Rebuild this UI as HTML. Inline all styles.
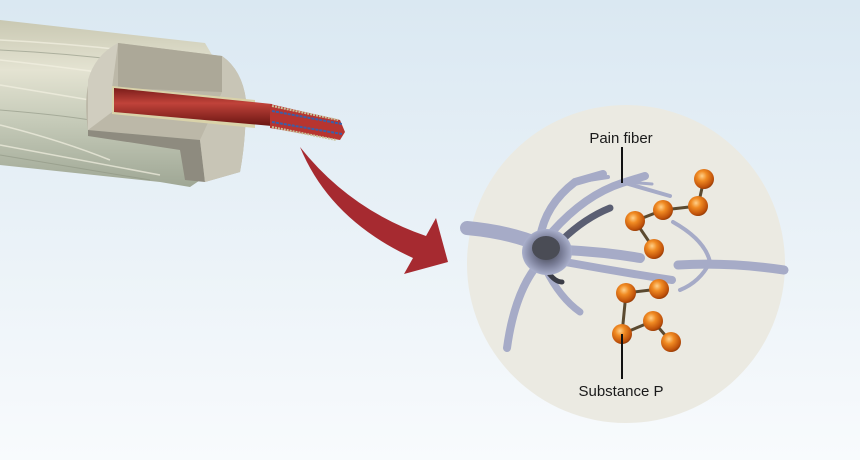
<!DOCTYPE html>
<html><head><meta charset="utf-8"><style>
html,body{margin:0;padding:0;width:860px;height:460px;overflow:hidden}
body{background:linear-gradient(#dae8f2,#f4f8fb 85%,#f8fbfd)}
svg{display:block}
text{font-family:"Liberation Sans",sans-serif;font-size:15px;fill:#1a1a1a}
</style></head><body>
<svg width="860" height="460" viewBox="0 0 860 460">
<defs>
<linearGradient id="cyl" x1="0" y1="0" x2="0" y2="1">
<stop offset="0" stop-color="#c9c8b2"/><stop offset=".3" stop-color="#e4e3d2"/><stop offset=".6" stop-color="#c6cbb9"/><stop offset="1" stop-color="#9fa795"/></linearGradient>
<linearGradient id="red" x1="0" y1="0" x2="0" y2="1">
<stop offset="0" stop-color="#7a1d1a"/><stop offset=".4" stop-color="#c0433a"/><stop offset="1" stop-color="#6a1512"/></linearGradient>
<radialGradient id="ball" cx=".4" cy=".35" r=".7">
<stop offset="0" stop-color="#ffd08a"/><stop offset=".35" stop-color="#f08a22"/><stop offset=".8" stop-color="#c0520a"/><stop offset="1" stop-color="#8a3605"/></radialGradient>
<radialGradient id="soma" cx=".5" cy=".5" r=".5">
<stop offset="0" stop-color="#3a3c46"/><stop offset=".6" stop-color="#7a7e98"/><stop offset="1" stop-color="#aab0cc"/></radialGradient>
</defs>
<!-- cable -->
<path d="M0 20 L205 43 L215 60 L215 170 L190 187 L160 182 L0 165 Z" fill="url(#cyl)"/>
<g stroke="#f3f1e2" stroke-width="1.5" fill="none" opacity=".7">
<path d="M0 40 Q100 45 200 60"/><path d="M0 60 Q90 70 150 80"/><path d="M0 85 Q60 95 90 100"/><path d="M0 125 Q60 140 110 160"/><path d="M0 145 Q80 160 160 175"/>
</g>
<g stroke="#8e9482" stroke-width="1" fill="none" opacity=".6">
<path d="M0 50 Q100 55 190 70"/><path d="M0 110 Q60 115 90 120"/><path d="M0 155 Q80 168 150 180"/>
</g>
<path d="M118 43 L222 56 Q242 70 246 100 Q246 140 240 172 L205 182 L200 140 L88 130 Q82 90 95 65 Z" fill="#bcb8a8"/>
<path d="M118 43 L222 56 L222 92 L118 88 Z" fill="#aca898"/>
<path d="M88 130 L200 140 L205 182 L185 180 L180 150 L88 136 Z" fill="#8e8b7f"/>
<path d="M222 56 Q242 70 246 100 Q246 140 240 172 L205 182 L200 140 L222 92 Z" fill="#c8c5b6"/>
<path d="M118 43 Q95 55 88 80 L88 130 L112 112 L112 88 Z" fill="#d0cdbf"/>
<path d="M112 86 L255 100 L255 128 L112 114 Z" fill="#d9d2a9"/>
<path d="M114 88 L272 104 L272 126 L114 112 Z" fill="url(#red)"/>
<path d="M270 104 L340 120 L345 132 L340 140 L270 128 Z" fill="#b73530"/>
<g stroke-width="2" fill="none">
<path d="M272 106 L338 120" stroke="#c9c39a" stroke-dasharray="2 1"/>
<path d="M272 111 L342 124" stroke="#3a5fa8" stroke-dasharray="3 1"/>
<path d="M272 122 L342 134" stroke="#3a5fa8" stroke-dasharray="3 1"/>
<path d="M272 127 L336 140" stroke="#c9c39a" stroke-dasharray="2 1"/>
</g>
<!-- arrow -->
<path d="M300 147 Q350 210 426 236 L436 218 L448 262 L404 274 L413 258 Q330 220 300 147 Z" fill="#a62a30"/>
<!-- circle -->
<circle cx="626" cy="264" r="159" fill="#ebeae2"/>
<!-- neuron -->
<g fill="none" stroke-linecap="round" stroke="#a6abc7">
<path d="M540 245 Q510 232 467 228" stroke-width="14"/>
<path d="M540 238 Q545 205 575 182 L603 174" stroke-width="8"/>
<path d="M575 182 L608 177" stroke-width="4"/>
<path d="M552 232 Q585 195 622 183 L645 176" stroke-width="8"/>
<path d="M625 183 L670 196" stroke-width="4"/>
<path d="M628 182 L652 184" stroke-width="3"/>
<path d="M562 240 Q585 218 610 208" stroke-width="7" stroke="#5a5e72"/>
<path d="M565 250 Q605 252 640 258" stroke-width="10"/>
<path d="M565 262 Q620 272 672 280" stroke-width="8"/>
<path d="M540 262 Q515 290 507 348" stroke-width="8"/>
<path d="M545 268 Q560 298 580 312" stroke-width="7"/>
<path d="M548 272 Q555 282 562 282" stroke-width="5" stroke="#3a3c46"/>
<path d="M678 265 Q730 262 784 270" stroke-width="9"/>
<path d="M673 222 Q705 240 710 262 Q700 282 680 290" stroke-width="4"/>
</g>
<ellipse cx="547" cy="252" rx="25" ry="23" fill="url(#soma)"/>
<ellipse cx="546" cy="248" rx="14" ry="12" fill="#4a4c55"/>
<!-- substance P -->
<g stroke="#5b4a30" stroke-width="3" fill="none">
<path d="M704 179 L698 206 L663 210 L635 221 L654 249"/>
<path d="M659 289 L626 293 L622 334 L653 321 L671 342"/>
</g>
<g fill="url(#ball)">
<circle cx="704" cy="179" r="10"/><circle cx="698" cy="206" r="10"/><circle cx="663" cy="210" r="10"/><circle cx="635" cy="221" r="10"/><circle cx="654" cy="249" r="10"/>
<circle cx="626" cy="293" r="10"/><circle cx="659" cy="289" r="10"/><circle cx="622" cy="334" r="10"/><circle cx="653" cy="321" r="10"/><circle cx="671" cy="342" r="10"/>
</g>
<g stroke="#111" stroke-width="2">
<line x1="622" y1="147" x2="622" y2="183"/><line x1="622" y1="334" x2="622" y2="379"/>
</g>
<text x="621" y="143" text-anchor="middle">Pain fiber</text>
<text x="621" y="396" text-anchor="middle">Substance P</text>
</svg>
</body></html>
